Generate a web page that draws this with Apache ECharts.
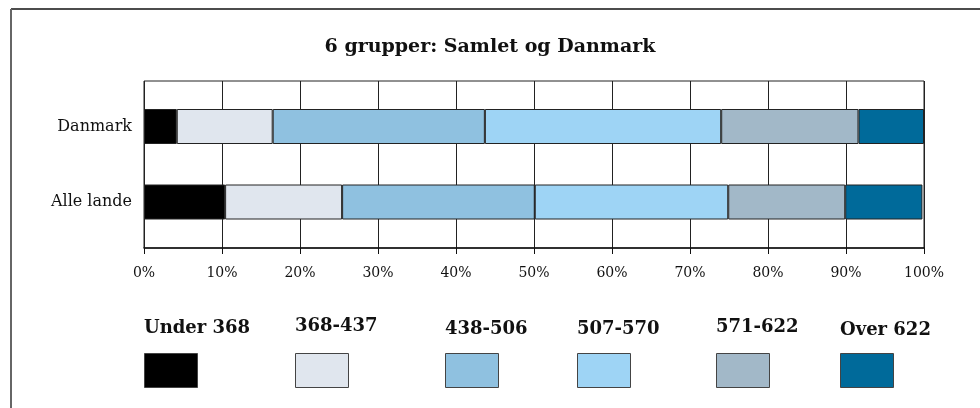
<!DOCTYPE html>
<html>
<head>
    <meta charset="utf-8">
    <script src="https://cdn.jsdelivr.net/npm/echarts@6/dist/echarts.min.js"></script>
</head>
<body style="margin:0;background:#fff">
<div id="main" style="width: 980px;height:408px;"></div>
<script type="text/javascript">
// data
var countries = ['Danmark', 'Alle lande'];
var groups = ['Under 368', '368-437', '438-506', '507-570', '571-622', 'Over 622'];
var danmark = [4.2, 12.3, 27.2, 30.3, 17.6, 8.4];
var alleLande = [10.4, 15.0, 24.7, 24.8, 15.0, 9.9];
var xTicks = [0, 10, 20, 30, 40, 50, 60, 70, 80, 90, 100];

var colors = ['#000000', '#E0E6EE', '#8FC1E0', '#9ED4F5', '#A2B8C8', '#006A9A'];
// legend layout (left x of each item, label y)
var legendX = [144, 295, 445, 577, 716, 840];
var labelY = [329, 327, 330, 330, 328, 331];

var chart = echarts.init(document.getElementById('main'));
var font = '"DejaVu Serif", serif';

var series = groups.map(function (g, i) {
    return {
        name: g,
        type: 'bar',
        stack: 'all',
        xAxisIndex: 1,
        yAxisIndex: 1,
        barWidth: 35,
        data: [danmark[i], alleLande[i]],
        itemStyle: {
            color: colors[i],
            borderColor: '#222',
            borderWidth: 1
        },
        emphasis: { disabled: true }
    };
});

var graphic = [
    { type: 'line', shape: { x1: 11, y1: 9, x2: 980, y2: 9 }, style: { stroke: '#111', lineWidth: 1.5 } },
    { type: 'line', shape: { x1: 11, y1: 9, x2: 11, y2: 408 }, style: { stroke: '#666', lineWidth: 2 } }
];
groups.forEach(function (g, i) {
    graphic.push({
        type: 'text',
        left: legendX[i],
        top: labelY[i] - 10,
        style: { text: g, font: 'bold 18px ' + font, fill: '#111' }
    });
    graphic.push({
        type: 'rect',
        shape: { x: legendX[i] + 0.5, y: 353.5, width: 53, height: 34 },
        style: { fill: colors[i], stroke: '#444', lineWidth: 1 }
    });
});

var option = {
    backgroundColor: '#fff',
    animation: false,
    title: {
        text: '6 grupper: Samlet og Danmark',
        left: 'center',
        top: 33,
        textStyle: { fontFamily: font, fontWeight: 'bold', fontSize: 19, color: '#111' }
    },
    grid: [
        { left: 144, right: 56, top: 81, bottom: 160, show: true, borderColor: '#222', borderWidth: 1, backgroundColor: 'transparent' },
        { left: 144, right: 56, top: 88.75, bottom: 168.25 }
    ],
    xAxis: [{
        gridIndex: 0,
        type: 'value',
        min: 0,
        max: 100,
        interval: 10,
        axisLine: { show: true, lineStyle: { color: '#111', width: 1.5 } },
        axisTick: { show: true, length: 6, lineStyle: { color: '#111' } },
        axisLabel: {
            margin: 18,
            fontFamily: font,
            fontSize: 14,
            color: '#111',
            formatter: function (v) { return xTicks.indexOf(v) >= 0 ? v + '%' : ''; }
        },
        splitLine: { show: true, lineStyle: { color: '#222', width: 1 } }
    }, {
        gridIndex: 1,
        type: 'value',
        min: 0,
        max: 100,
        show: false
    }],
    yAxis: [{
        gridIndex: 0,
        type: 'category',
        data: countries,
        inverse: true,
        axisLine: { show: false },
        axisTick: { show: false },
        axisLabel: { show: false }
    }, {
        gridIndex: 1,
        type: 'category',
        data: countries,
        inverse: true,
        axisLine: { show: false },
        axisTick: { show: false },
        axisLabel: { margin: 12, fontFamily: font, fontSize: 16, color: '#111' }
    }],
    graphic: graphic,
    series: series
};
chart.setOption(option);
</script>
</body>
</html>
